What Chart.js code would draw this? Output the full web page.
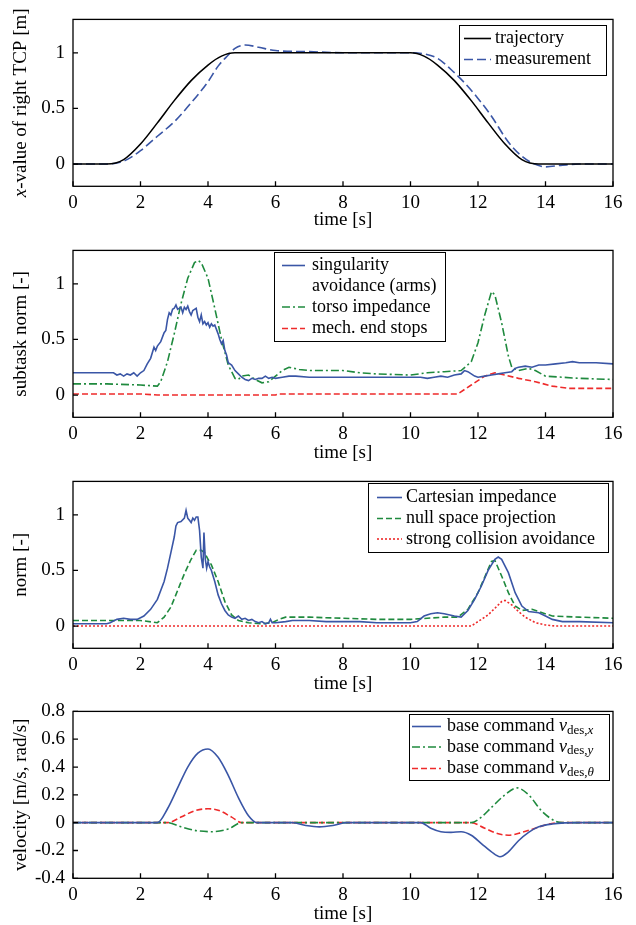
<!DOCTYPE html>
<html>
<head>
<meta charset="utf-8">
<script src="https://cdn.jsdelivr.net/npm/chart.js@4/dist/chart.umd.min.js"></script>
<style>
  body { margin: 0; background: #fff; width: 636px; height: 925px; overflow: hidden; position: relative; }
  canvas { position: absolute; left: 0; }
</style>
</head>
<body>
<canvas id="c1" width="636" height="240" style="top:0px"></canvas>
<canvas id="c2" width="636" height="240" style="top:231px"></canvas>
<canvas id="c3" width="636" height="240" style="top:462px"></canvas>
<canvas id="c4" width="636" height="233" style="top:692px"></canvas>
<script>
// ---- data ----
const xTicks = [0, 2, 4, 6, 8, 10, 12, 14, 16];
const normTicks = [0, 0.5, 1];
const velTicks = [-0.4, -0.2, 0, 0.2, 0.4, 0.6, 0.8];

// panel 1: x-value of right TCP
const trajT = [0, 1, 1.5, 2, 2.5, 3, 3.5, 4, 4.4, 4.8, 6, 8, 10, 10.4, 10.8, 11.3, 11.8, 12.3, 12.8, 13.3, 13.8, 16];
const trajV = [0, 0, 0.04, 0.18, 0.37, 0.57, 0.75, 0.89, 0.97, 1, 1, 1, 1, 0.97, 0.89, 0.75, 0.57, 0.37, 0.18, 0.04, 0, 0];
const measT = [0, 1, 1.3, 1.6, 2, 2.5, 3, 3.5, 4, 4.3, 4.6, 4.8, 5.1, 5.5, 6, 7, 8, 9, 10, 10.4, 10.8, 11.2, 11.6, 12, 12.4, 12.8, 13, 13.3, 13.6, 14, 14.5, 15, 16];
const measV = [0, 0, 0.01, 0.04, 0.12, 0.25, 0.38, 0.55, 0.74, 0.88, 0.98, 1.04, 1.07, 1.05, 1.02, 1.01, 1, 1, 1, 0.99, 0.95, 0.85, 0.73, 0.59, 0.43, 0.24, 0.16, 0.07, 0.01, -0.025, -0.01, 0, 0];

// panel 2: subtask norms
const singT = [0, 0.5, 1, 1.2, 1.3, 1.4, 1.5, 1.6, 1.7, 1.8, 1.9, 2, 2.1, 2.2, 2.3, 2.4, 2.45, 2.5, 2.6, 2.7, 2.75, 2.8, 2.85, 2.9, 2.95, 3, 3.05, 3.1, 3.2, 3.25, 3.3, 3.35, 3.4, 3.45, 3.5, 3.55, 3.6, 3.65, 3.7, 3.75, 3.8, 3.85, 3.9, 3.95, 4, 4.05, 4.1, 4.15, 4.2, 4.25, 4.3, 4.35, 4.4, 4.45, 4.5, 4.55, 4.6, 4.7, 4.8, 4.9, 5, 5.1, 5.2, 5.3, 5.4, 5.5, 5.6, 5.7, 5.8, 5.9, 6, 6.2, 6.4, 6.6, 7, 8, 9, 10, 10.3, 10.5, 10.7, 10.9, 11.1, 11.3, 11.5, 11.6, 11.7, 11.8, 11.9, 12, 12.2, 12.4, 12.6, 12.8, 13, 13.1, 13.2, 13.4, 13.6, 13.8, 14, 14.3, 14.6, 14.8, 15, 15.5, 16];
const singV = [0.2, 0.2, 0.2, 0.2, 0.18, 0.19, 0.17, 0.19, 0.18, 0.2, 0.17, 0.2, 0.22, 0.28, 0.33, 0.43, 0.4, 0.44, 0.48, 0.56, 0.58, 0.68, 0.74, 0.72, 0.77, 0.78, 0.81, 0.77, 0.79, 0.74, 0.79, 0.77, 0.8, 0.75, 0.72, 0.76, 0.77, 0.78, 0.7, 0.66, 0.72, 0.64, 0.66, 0.63, 0.65, 0.61, 0.64, 0.62, 0.63, 0.59, 0.55, 0.5, 0.46, 0.49, 0.4, 0.36, 0.29, 0.27, 0.22, 0.19, 0.16, 0.14, 0.13, 0.15, 0.14, 0.15, 0.15, 0.17, 0.15, 0.16, 0.15, 0.16, 0.17, 0.17, 0.16, 0.16, 0.16, 0.16, 0.16, 0.15, 0.16, 0.17, 0.16, 0.18, 0.19, 0.22, 0.21, 0.19, 0.17, 0.16, 0.17, 0.18, 0.19, 0.2, 0.21, 0.24, 0.25, 0.26, 0.25, 0.27, 0.27, 0.28, 0.29, 0.3, 0.29, 0.29, 0.28];
const torsoT = [0, 1, 2, 2.5, 2.6, 2.8, 3, 3.2, 3.4, 3.6, 3.7, 3.8, 4, 4.2, 4.4, 4.6, 4.8, 4.9, 5, 5.2, 5.4, 5.6, 5.8, 6, 6.2, 6.4, 6.7, 7, 8, 8.5, 9, 10, 10.5, 11, 11.5, 11.8, 12, 12.2, 12.4, 12.5, 12.7, 12.9, 13, 13.2, 13.5, 13.7, 14, 14.5, 15, 16];
const torsoV = [0.1, 0.1, 0.09, 0.08, 0.12, 0.3, 0.55, 0.82, 1.05, 1.19, 1.21, 1.19, 1.05, 0.78, 0.5, 0.27, 0.15, 0.14, 0.17, 0.18, 0.14, 0.11, 0.12, 0.17, 0.22, 0.25, 0.23, 0.22, 0.22, 0.2, 0.19, 0.18, 0.2, 0.21, 0.22, 0.3, 0.47, 0.72, 0.93, 0.9, 0.65, 0.35, 0.25, 0.22, 0.24, 0.22, 0.17, 0.16, 0.15, 0.14];
const stopsT = [0, 2, 2.5, 6, 6.1, 11.4, 11.8, 12.2, 12.5, 12.8, 13.2, 13.7, 14.2, 14.7, 16];
const stopsV = [0.01, 0.01, 0, 0, 0.01, 0.01, 0.09, 0.17, 0.2, 0.18, 0.15, 0.12, 0.08, 0.06, 0.06];

// panel 3: norms
const cartT = [0, 1, 1.1, 1.3, 1.5, 1.7, 1.9, 2.1, 2.3, 2.5, 2.7, 2.8, 2.9, 3, 3.05, 3.1, 3.2, 3.3, 3.35, 3.4, 3.45, 3.5, 3.55, 3.6, 3.65, 3.7, 3.75, 3.8, 3.85, 3.88, 3.92, 3.96, 4, 4.05, 4.1, 4.2, 4.3, 4.4, 4.5, 4.6, 4.7, 4.8, 4.9, 5, 5.1, 5.2, 5.3, 5.4, 5.5, 5.6, 5.7, 5.8, 5.85, 5.9, 6, 6.3, 6.5, 7, 7.5, 8, 8.5, 9, 10, 10.2, 10.4, 10.6, 10.8, 11, 11.3, 11.5, 11.7, 11.9, 12.1, 12.3, 12.5, 12.6, 12.7, 12.9, 13.1, 13.3, 13.5, 13.8, 14, 14.2, 14.5, 15, 16];
const cartV = [0.02, 0.02, 0.03, 0.06, 0.07, 0.06, 0.06, 0.09, 0.15, 0.24, 0.4, 0.52, 0.66, 0.8, 0.9, 0.93, 0.94, 0.97, 1.04, 0.97, 0.95, 0.93, 0.97, 0.95, 0.98, 0.98, 0.86, 0.62, 0.52, 0.84, 0.6, 0.52, 0.58, 0.53, 0.5, 0.4, 0.28, 0.2, 0.14, 0.1, 0.08, 0.07, 0.09, 0.06, 0.07, 0.05, 0.06, 0.04, 0.03, 0.04, 0.02, 0.03, 0.06, 0.03, 0.03, 0.04, 0.05, 0.05, 0.04, 0.04, 0.04, 0.03, 0.03, 0.04, 0.09, 0.11, 0.12, 0.11, 0.09, 0.08, 0.14, 0.24, 0.36, 0.5, 0.6, 0.62, 0.6, 0.48, 0.3, 0.18, 0.13, 0.12, 0.09, 0.06, 0.04, 0.04, 0.03];
const nullT = [0, 2, 2.5, 2.7, 2.9, 3.1, 3.3, 3.5, 3.65, 3.8, 3.9, 4, 4.1, 4.3, 4.5, 4.7, 4.9, 5.2, 5.6, 5.9, 6.1, 6.3, 7, 8, 9, 10, 10.5, 11, 11.4, 11.7, 12, 12.2, 12.4, 12.5, 12.7, 12.9, 13.1, 13.3, 13.6, 13.8, 14.2, 15, 16];
const nullV = [0.05, 0.05, 0.03, 0.08, 0.17, 0.32, 0.47, 0.6, 0.68, 0.68, 0.66, 0.6, 0.55, 0.4, 0.22, 0.1, 0.05, 0.03, 0.02, 0.03, 0.06, 0.08, 0.08, 0.07, 0.06, 0.06, 0.07, 0.08, 0.08, 0.15, 0.3, 0.44, 0.58, 0.59, 0.45, 0.3, 0.18, 0.14, 0.15, 0.13, 0.09, 0.08, 0.07];
const collT = [0, 11.8, 12, 12.3, 12.5, 12.7, 12.8, 13, 13.2, 13.4, 13.7, 14, 14.3, 16];
const collV = [0, 0, 0.04, 0.1, 0.16, 0.22, 0.23, 0.19, 0.13, 0.08, 0.03, 0.01, 0, 0];

// panel 4: base velocity commands
const vxT = [0, 2.5, 2.8, 3.1, 3.4, 3.7, 4, 4.3, 4.6, 4.9, 5.2, 5.45, 6.5, 6.9, 7.3, 7.7, 8.1, 10.3, 10.6, 10.9, 11.2, 11.5, 11.8, 12.1, 12.4, 12.65, 12.9, 13.2, 13.5, 13.8, 14.2, 15, 16];
const vxV = [0, 0, 0.1, 0.25, 0.4, 0.5, 0.53, 0.47, 0.34, 0.18, 0.05, 0, 0, -0.02, -0.03, -0.02, 0, 0, -0.04, -0.065, -0.07, -0.065, -0.09, -0.15, -0.21, -0.245, -0.21, -0.13, -0.07, -0.03, -0.01, 0, 0];
const vyT = [0, 2.8, 3.2, 3.6, 4.1, 4.6, 5, 11.8, 12.1, 12.4, 12.8, 13.15, 13.5, 13.9, 14.3, 14.5, 16];
const vyV = [0, 0, -0.03, -0.055, -0.065, -0.045, 0, 0, 0.04, 0.11, 0.2, 0.25, 0.2, 0.08, 0.01, 0, 0];
const vthT = [0, 2.8, 3.2, 3.6, 4, 4.3, 4.7, 5, 11.8, 12.2, 12.6, 12.9, 13.3, 13.7, 14.1, 14.4, 16];
const vthV = [0, 0, 0.04, 0.085, 0.1, 0.09, 0.04, 0, 0, -0.04, -0.08, -0.09, -0.07, -0.04, -0.01, 0, 0];

// ---- styling ----
const FONT = "'Liberation Serif', 'Times New Roman', serif";
const BLUE = '#3a56a6', GREEN = '#1f8a3e', RED = '#ee2b2b', BLACK = '#000';
const R = '18px ' + FONT, I = 'italic 18px ' + FONT;
const T = '19px ' + FONT, TI = 'italic 19px ' + FONT;
const S = '13px ' + FONT, SI = 'italic 13px ' + FONT;

function pts(t, v) { return t.map((x, i) => ({ x: x, y: v[i] })); }

function line(label, t, v, color, dash, smooth) {
  return {
    label: label, data: pts(t, v), borderColor: color, borderWidth: 1.6,
    borderDash: dash, pointRadius: 0, fill: false,
    cubicInterpolationMode: smooth ? 'monotone' : 'default', tension: 0
  };
}

function drawRich(ctx, segs, x, y) {
  segs.forEach(s => {
    ctx.font = s.f;
    ctx.fillText(s.t, x, y + (s.dy || 0));
    x += ctx.measureText(s.t).width;
  });
  return x;
}
function richWidth(ctx, segs) {
  let w = 0;
  segs.forEach(s => { ctx.font = s.f; w += ctx.measureText(s.t).width; });
  return w;
}

// box, inward ticks, axis titles and the in-plot legend
const deco = {
  id: 'deco',
  afterDraw(chart, args, o) {
    const ctx = chart.ctx, a = chart.chartArea;
    const xs = chart.scales.x, ys = chart.scales.y;
    ctx.save();
    ctx.strokeStyle = '#000';
    ctx.lineWidth = 1.3;
    ctx.beginPath();
    ys.ticks.forEach(t => { const y = ys.getPixelForValue(t.value); ctx.moveTo(a.left, y); ctx.lineTo(a.left + 5, y); });
    xs.ticks.forEach(t => { const x = xs.getPixelForValue(t.value); ctx.moveTo(x, a.bottom); ctx.lineTo(x, a.bottom - 5); });
    ctx.stroke();
    ctx.strokeRect(a.left, a.top, a.right - a.left, a.bottom - a.top);

    ctx.fillStyle = '#000';
    ctx.textBaseline = 'middle';
    ctx.textAlign = 'left';
    // x title
    const xt = [{ t: 'time [s]', f: T }];
    drawRich(ctx, xt, (a.left + a.right) / 2 - richWidth(ctx, xt) / 2, a.bottom + o.xTitleDy);
    // y title
    ctx.save();
    ctx.translate(o.yTitleX, (a.top + a.bottom) / 2);
    ctx.rotate(-Math.PI / 2);
    drawRich(ctx, o.yTitle, -richWidth(ctx, o.yTitle) / 2, 0);
    ctx.restore();

    // legend
    const L = o.legend;
    ctx.fillStyle = '#fff';
    ctx.fillRect(L.x, L.y, L.w, L.h);
    ctx.lineWidth = 1;
    ctx.strokeStyle = '#000';
    ctx.strokeRect(L.x, L.y, L.w, L.h);
    L.rows.forEach(r => {
      if (r.ds !== undefined) {
        const ds = chart.data.datasets[r.ds];
        ctx.save();
        ctx.strokeStyle = ds.borderColor;
        ctx.lineWidth = ds.borderWidth;
        ctx.setLineDash(ds.borderDash || []);
        ctx.beginPath();
        ctx.moveTo(L.s1, r.y);
        ctx.lineTo(L.s2, r.y);
        ctx.stroke();
        ctx.restore();
      }
      ctx.fillStyle = '#000';
      drawRich(ctx, r.text, L.tx, r.y);
    });
    ctx.restore();
  }
};

// chart area is 17..186.3 px inside every canvas
function makeChart(id, datasets, yMin, yMax, yTicks, decoOpts) {
  const canvas = document.getElementById(id);
  const axH = canvas.height - 17 - 169.3;
  return new Chart(canvas, {
    type: 'line',
    data: { datasets: datasets },
    options: {
      responsive: false,
      animation: false,
      layout: { padding: { top: 17, right: 23, left: 0, bottom: 0 } },
      plugins: { legend: { display: false }, tooltip: { enabled: false }, deco: decoOpts },
      scales: {
        x: {
          type: 'linear', min: 0, max: 16,
          grid: { display: false, drawTicks: false }, border: { display: false },
          afterBuildTicks: s => { s.ticks = xTicks.map(v => ({ value: v })); },
          afterFit: s => { s.height = axH; },
          ticks: { padding: 5, color: '#000', maxRotation: 0, autoSkip: false, font: { family: FONT, size: 19 }, callback: v => String(v) }
        },
        y: {
          type: 'linear', min: yMin, max: yMax,
          grid: { display: false, drawTicks: false }, border: { display: false },
          afterBuildTicks: s => { s.ticks = yTicks.map(v => ({ value: v })); },
          afterFit: s => { s.width = 73; },
          ticks: { padding: 8, color: '#000', autoSkip: false, font: { family: FONT, size: 19 }, callback: v => String(v) }
        }
      }
    },
    plugins: [deco]
  });
}

makeChart('c1', [
  line('trajectory', trajT, trajV, BLACK, [], true),
  line('measurement', measT, measV, BLUE, [9, 4], true)
], -0.2, 1.3, normTicks, {
  xTitleDy: 34, yTitleX: 21,
  yTitle: [{ t: 'x', f: TI }, { t: '-value of right TCP [m]', f: T }],
  legend: { x: 459.5, y: 25.5, w: 147, h: 50, s1: 464, s2: 491, tx: 495, rows: [
    { ds: 0, y: 38.5, text: [{ t: 'trajectory', f: R }] },
    { ds: 1, y: 59.5, text: [{ t: 'measurement', f: R }] }
  ] }
});

makeChart('c2', [
  line('singularity avoidance (arms)', singT, singV, BLUE, [], false),
  line('torso impedance', torsoT, torsoV, GREEN, [8, 3, 2, 3], false),
  line('mech. end stops', stopsT, stopsV, RED, [6, 3], false)
], -0.2, 1.3, normTicks, {
  xTitleDy: 36, yTitleX: 21,
  yTitle: [{ t: 'subtask norm [-]', f: T }],
  legend: { x: 274.5, y: 21.5, w: 171, h: 89, s1: 282, s2: 305, tx: 312, rows: [
    { ds: 0, y: 34.5, text: [{ t: 'singularity', f: R }] },
    { y: 55, text: [{ t: 'avoidance (arms)', f: R }] },
    { ds: 1, y: 76, text: [{ t: 'torso impedance', f: R }] },
    { ds: 2, y: 97.5, text: [{ t: 'mech. end stops', f: R }] }
  ] }
});

makeChart('c3', [
  line('Cartesian impedance', cartT, cartV, BLUE, [], false),
  line('null space projection', nullT, nullV, GREEN, [6, 3], false),
  line('strong collision avoidance', collT, collV, RED, [2, 2], false)
], -0.2, 1.3, normTicks, {
  xTitleDy: 36, yTitleX: 21,
  yTitle: [{ t: 'norm [-]', f: T }],
  legend: { x: 368.5, y: 21.5, w: 240, h: 69, s1: 377, s2: 402, tx: 406, rows: [
    { ds: 0, y: 35.5, text: [{ t: 'Cartesian impedance', f: R }] },
    { ds: 1, y: 56.5, text: [{ t: 'null space projection', f: R }] },
    { ds: 2, y: 77, text: [{ t: 'strong collision avoidance', f: R }] }
  ] }
});

makeChart('c4', [
  line('base command v_des,x', vxT, vxV, BLUE, [], true),
  line('base command v_des,y', vyT, vyV, GREEN, [8, 3, 2, 3], true),
  line('base command v_des,θ', vthT, vthV, RED, [6, 3], true)
], -0.4, 0.8, velTicks, {
  xTitleDy: 36, yTitleX: 21,
  yTitle: [{ t: 'velocity [m/s, rad/s]', f: T }],
  legend: { x: 409.5, y: 22.5, w: 200, h: 66, s1: 412, s2: 441, tx: 447, rows: [
    { ds: 0, y: 34.5, text: [{ t: 'base command ', f: R }, { t: 'v', f: I }, { t: 'des,', f: S, dy: 4 }, { t: 'x', f: SI, dy: 4 }] },
    { ds: 1, y: 55, text: [{ t: 'base command ', f: R }, { t: 'v', f: I }, { t: 'des,', f: S, dy: 4 }, { t: 'y', f: SI, dy: 4 }] },
    { ds: 2, y: 76.5, text: [{ t: 'base command ', f: R }, { t: 'v', f: I }, { t: 'des,', f: S, dy: 4 }, { t: 'θ', f: SI, dy: 4 }] }
  ] }
});
</script>
</body>
</html>
